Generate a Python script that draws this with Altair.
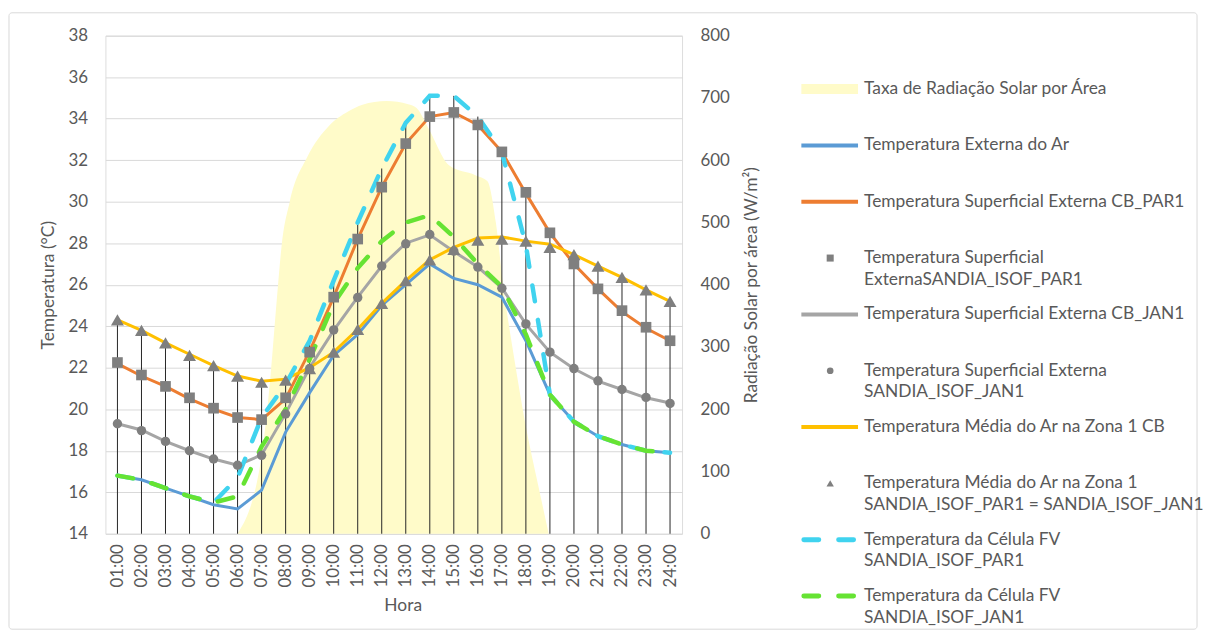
import json
import altair as alt
import pandas as pd

# ---------------- data ----------------
hours = list(range(1, 25))
hour_labels = [f"{h:02d}:00" for h in hours]

temp_externa_ar = [16.8, 16.6, 16.2, 15.8, 15.4, 15.2, 16.1, 18.9, 20.8, 22.6, 23.6, 25.0,
                   26.0, 27.0, 26.3, 26.0, 25.4, 23.3, 20.7, 19.4, 18.7, 18.3, 18.0, 17.9]
temp_sup_cb_par1 = [22.2, 21.6, 21.1, 20.5, 20.0, 19.6, 19.5, 20.5, 22.8, 25.4, 28.2, 30.7,
                    32.8, 34.1, 34.3, 33.7, 32.4, 30.4, 28.5, 27.0, 25.8, 24.7, 23.9, 23.3]
temp_sup_sandia_par1 = [22.25, 21.65, 21.1, 20.55, 20.05, 19.6, 19.5, 20.55, 22.75, 25.4, 28.2, 30.7,
                        32.8, 34.1, 34.3, 33.7, 32.4, 30.45, 28.5, 27.0, 25.8, 24.75, 23.95, 23.3]
temp_sup_cb_jan1 = [19.3, 19.0, 18.45, 18.0, 17.6, 17.3, 17.8, 19.8, 22.0, 23.8, 25.4, 26.9,
                    28.0, 28.4, 27.6, 26.85, 25.85, 24.1, 22.75, 21.95, 21.35, 20.95, 20.55, 20.3]
temp_sup_sandia_jan1 = [19.3, 18.97, 18.45, 18.0, 17.6, 17.3, 17.78, 19.77, 21.96, 23.82, 25.38, 26.9,
                        27.97, 28.42, 27.62, 26.85, 25.83, 24.11, 22.75, 21.96, 21.37, 20.95, 20.57, 20.28]
temp_media_zona1_cb = [24.3, 23.8, 23.2, 22.65, 22.1, 21.6, 21.35, 21.45, 22.0, 22.75, 23.85, 25.1,
                       26.2, 27.2, 27.8, 28.25, 28.3, 28.1, 27.95, 27.45, 26.9, 26.35, 25.75, 25.2]
temp_media_zona1_sandia = [24.3, 23.8, 23.2, 22.6, 22.1, 21.6, 21.3, 21.4, 21.95, 22.75, 23.85, 25.1,
                           26.2, 27.2, 27.7, 28.15, 28.2, 28.1, 27.8, 27.45, 26.9, 26.35, 25.75, 25.2]
temp_celula_par1 = [16.8, 16.6, 16.2, 15.8, 15.5, 16.7, 19.6, 21.2, 23.3, 26.2, 29.0, 31.6,
                    33.8, 35.1, 35.1, 34.1, 32.4, 27.9, 20.7, 19.4, 18.7, 18.3, 18.0, 17.9]
temp_celula_jan1 = [16.8, 16.6, 16.2, 15.8, 15.5, 15.8, 18.2, 20.0, 22.4, 25.1, 26.8, 28.1,
                    29.0, 29.35, 28.3, 27.0, 25.9, 23.6, 20.7, 19.4, 18.7, 18.3, 18.0, 17.9]

# solar radiation (W/m2), sampled along the drawn outline (hour position, value)
rad_hour = [6.0, 7.0, 7.35, 7.63, 7.84, 8.17, 8.9, 9.8, 10.6, 11.2, 12.2, 13.1,
            13.45, 13.96, 14.8, 15.9, 16.4, 16.75, 17.05, 17.5, 18.0, 18.5, 18.95]
rad_value = [0, 125, 245, 375, 465, 533, 605, 655, 678, 689, 695, 690,
             684, 650, 592, 576, 566, 500, 400, 285, 172, 80, 0]

legend_labels = [
    ["Taxa de Radiação Solar por Área"],
    ["Temperatura Externa do Ar"],
    ["Temperatura Superficial Externa CB_PAR1"],
    ["Temperatura Superficial", "ExternaSANDIA_ISOF_PAR1"],
    ["Temperatura Superficial Externa CB_JAN1"],
    ["Temperatura Superficial Externa", "SANDIA_ISOF_JAN1"],
    ["Temperatura Média do Ar na Zona 1 CB"],
    ["Temperatura Média do Ar na Zona 1", "SANDIA_ISOF_PAR1 = SANDIA_ISOF_JAN1"],
    ["Temperatura da Célula FV", "SANDIA_ISOF_PAR1"],
    ["Temperatura da Célula FV", "SANDIA_ISOF_JAN1"],
]

# ---------------- styles ----------------
FONT = "Lato"
TXT = "#595959"
AREA_COL = "#FFFBC9"
MARK_COL = "#7F7F7F"
DASH = [16, 19]

series = [
    # key, values, kind, color
    ("rad", None, "area", AREA_COL),
    ("ext", temp_externa_ar, "line", "#5B9BD5"),
    ("cbpar", temp_sup_cb_par1, "line", "#ED7D31"),
    ("sqpar", temp_sup_sandia_par1, "square", MARK_COL),
    ("cbjan", temp_sup_cb_jan1, "line", "#A5A5A5"),
    ("cijan", temp_sup_sandia_jan1, "circle", MARK_COL),
    ("zona", temp_media_zona1_cb, "line", "#FFC000"),
    ("tri", temp_media_zona1_sandia, "triangle-up", MARK_COL),
    ("fvpar", temp_celula_par1, "dash", "#40D3EF"),
    ("fvjan", temp_celula_jan1, "dash", "#66E333"),
]

df = pd.DataFrame({"hour": hours})
for key, vals, kind, col in series:
    if vals is not None:
        df[key] = vals
temp_keys = [s[0] for s in series if s[1] is not None]
df["top"] = df[temp_keys].max(axis=1)

rad_df = pd.DataFrame({"hour": rad_hour, "rad": rad_value})

# ---------------- scales / axes ----------------
x_scale = alt.Scale(domain=[0.5, 24.5], nice=False, zero=False)
x_axis = alt.Axis(values=hours, labelExpr=f"{json.dumps(hour_labels)}[datum.value - 1]",
                  labelAngle=270, domain=False, ticks=False, grid=False, labelPadding=10,
                  labelFontSize=17, labelColor=TXT, labelFont=FONT,
                  title="Hora", titleFontSize=17.5, titleColor=TXT, titleFont=FONT,
                  titleFontWeight="normal", titlePadding=10, titleX=299)


def X():
    return alt.X("hour:Q", scale=x_scale, axis=x_axis, title="Hora")


t_scale = alt.Scale(domain=[14, 38], nice=False, zero=False)
t_axis = alt.Axis(values=list(range(14, 39, 2)), grid=True, gridColor="#D9D9D9", gridWidth=1,
                  domain=False, ticks=False, labelPadding=18, labelFontSize=17, labelColor=TXT,
                  labelFont=FONT, title="Temperatura (°C)", titleFontSize=17.5, titleColor=TXT,
                  titleFont=FONT, titleFontWeight="normal", titlePadding=11)


def YT(field):
    return alt.Y(f"{field}:Q", scale=t_scale, axis=t_axis, title="Temperatura (°C)")


r_scale = alt.Scale(domain=[0, 800], nice=False)
r_axis = alt.Axis(orient="right", values=list(range(0, 801, 100)), grid=False, domain=False,
                  ticks=False, labelPadding=18, labelFontSize=17, labelColor=TXT, labelFont=FONT,
                  title="Radiação Solar por área (W/m²)", titleAngle=270, titleBaseline="top",
                  titleFontSize=17.5, titleColor=TXT, titleFont=FONT, titleFontWeight="normal",
                  titlePadding=13)

# ---------------- plot layers ----------------
area = alt.Chart(rad_df).mark_area(color=AREA_COL, interpolate="monotone", opacity=1).encode(
    x=X(), y=alt.Y("rad:Q", scale=r_scale, axis=r_axis, title="Radiação Solar por área (W/m²)")
)

drops = alt.Chart(df).mark_rule(color="#262626", strokeWidth=1).encode(
    x=X(), y=YT("top"), y2=alt.datum(14)
)

line_layers, dash_layers, point_layers = [], [], []
for key, vals, kind, col in series:
    if kind == "line":
        line_layers.append(alt.Chart(df).mark_line(color=col, strokeWidth=3).encode(x=X(), y=YT(key)))
    elif kind == "dash":
        dash_layers.append(alt.Chart(df).mark_line(color=col, strokeWidth=4.5, strokeDash=DASH,
                                                   strokeCap="round").encode(x=X(), y=YT(key)))
    elif kind in ("square", "circle", "triangle-up"):
        size = {"square": 115, "circle": 90, "triangle-up": 170}[kind]
        point_layers.append(alt.Chart(df).mark_point(shape=kind, filled=True, color=col, opacity=1,
                                                     size=size).encode(x=X(), y=YT(key)))

temps = alt.layer(drops, *line_layers, *dash_layers, *point_layers)

# ---------------- legend (own index scale) ----------------
LINE_STEP = 0.383
leg_scale = alt.Scale(domain=[0, 9], range=[53.7, 563.7], nice=False, zero=False)
SYM_X0, SYM_X1, SYM_MID, TEXT_X = 700, 757, 729, 763


def LY():
    return alt.Y("k:Q", scale=leg_scale, axis=None)


leg_layers = []
for k, (key, vals, kind, col) in enumerate(series):
    d = pd.DataFrame({"k": [k]})
    enc_rule = dict(x=alt.value(SYM_X0), x2=alt.value(SYM_X1), y=LY())
    if kind == "area":
        leg_layers.append(alt.Chart(d).mark_rule(color=col, strokeWidth=10).encode(**enc_rule))
    elif kind == "line":
        leg_layers.append(alt.Chart(d).mark_rule(color=col, strokeWidth=4).encode(**enc_rule))
    elif kind == "dash":
        leg_layers.append(alt.Chart(d).mark_rule(color=col, strokeWidth=5, strokeDash=[15, 20],
                                                 strokeCap="round").encode(
            x=alt.value(SYM_X0 + 2.5), x2=alt.value(SYM_X1), y=LY()))
    else:
        size = {"square": 50, "circle": 45, "triangle-up": 55}[kind]
        leg_layers.append(alt.Chart(d).mark_point(shape=kind, filled=True, color=col, opacity=1,
                                                  size=size).encode(x=alt.value(SYM_MID), y=LY()))

rows = []
for k, lines in enumerate(legend_labels):
    for j, t in enumerate(lines):
        rows.append({"k": k + j * LINE_STEP, "text": t})
leg_text = alt.Chart(pd.DataFrame(rows)).mark_text(align="left", baseline="middle", fontSize=17.5,
                                                   font=FONT, color=TXT).encode(
    x=alt.value(TEXT_X), y=LY(), text="text:N")

legend = alt.layer(*leg_layers, leg_text)

# ---------------- chart frame ----------------
frame = alt.Chart(pd.DataFrame({"a": [0]})).mark_rect(fill="white", fillOpacity=0, stroke="#D9D9D9",
                                                      strokeWidth=1, cornerRadius=3).encode(
    x=alt.value(-97), x2=alt.value(1098), y=alt.value(-23), y2=alt.value(597))

chart = alt.layer(frame, area, temps, legend).resolve_scale(y="independent").properties(
    width=580, height=501,
    padding={"left": 0, "top": 2, "right": 0, "bottom": 0},
).configure_view(stroke=None).configure(background="white", font=FONT)

chart.save("out.html", embed_options={"renderer": "svg", "actions": False})
